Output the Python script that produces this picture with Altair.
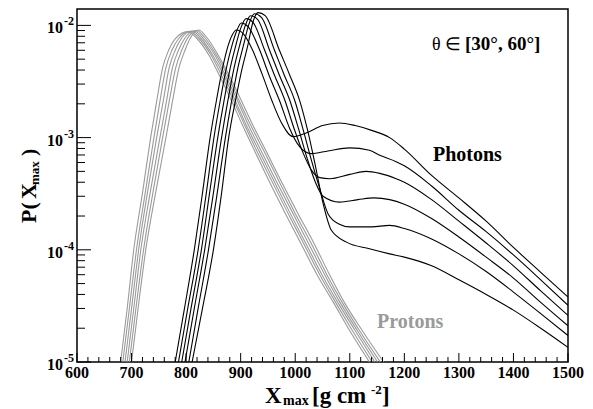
import altair as alt
import pandas as pd

# ---------------- data ----------------
# Protons: shared crossing levels, per-curve crossing positions
p_rise_levels = [1e-5, 3e-5, 1e-4, 3.2e-4, 1e-3, 2.1e-3, 4.2e-3, 6.0e-3, 7.6e-3]
p_fall_levels = [7.8e-3, 5.3e-3, 3.5e-3, 2.2e-3, 1.3e-3, 7.7e-4, 4.3e-4, 2.2e-4,
                 1.15e-4, 6e-5, 3.4e-5, 1.9e-5, 1e-5]
p_rise_x = [
    [680, 692, 704, 720, 735, 746, 757, 768, 780],
    [684, 696, 709, 725, 741, 752, 763, 774, 786],
    [688, 700, 713, 729, 746, 758, 769, 780, 791],
    [692, 704, 717, 734, 752, 764, 775, 786, 797],
    [696, 708, 722, 739, 757, 769, 781, 792, 802],
    [700, 712, 726, 744, 763, 775, 787, 798, 807],
]
p_peak_x = [803, 807, 811, 815, 819, 823]
p_peak_y = [8.8e-3, 8.85e-3, 8.9e-3, 8.95e-3, 9.0e-3, 9.1e-3]
p_fall_x = [
    [818, 843, 862, 882, 903, 925, 950, 980, 1010, 1040, 1070, 1100, 1136],
    [822, 847, 866, 886, 907, 929, 955, 985, 1015, 1045, 1074, 1105, 1141],
    [826, 850, 870, 889, 910, 933, 959, 989, 1019, 1049, 1078, 1110, 1146],
    [830, 854, 873, 893, 914, 937, 963, 994, 1024, 1054, 1082, 1114, 1151],
    [834, 857, 877, 896, 918, 942, 968, 998, 1029, 1058, 1086, 1118, 1156],
    [838, 860, 880, 900, 922, 946, 972, 1003, 1034, 1063, 1090, 1123, 1162],
]

# Photons: rising crossing levels shared, rest of each curve listed point by point
g_rise_levels = [1e-5, 3e-5, 1e-4, 3.2e-4, 1e-3, 2.2e-3, 4.2e-3, 6.6e-3]
g_rise_x = [
    [780, 797, 815, 830, 844, 856, 867, 877],
    [786, 803, 822, 837, 851, 863, 874, 884],
    [792, 809, 828, 843, 858, 870, 881, 891],
    [798, 815, 834, 850, 865, 877, 888, 898],
    [805, 822, 841, 857, 872, 884, 895, 905],
    [811, 830, 850, 865, 878, 891, 903, 913],
]
g_rest_x = [
    [885, 892, 905, 922, 940, 957, 975, 996, 1020, 1050, 1081, 1110, 1140, 1173, 1200, 1250, 1300, 1350, 1400, 1450, 1500],
    [893, 901, 914, 935, 952, 971, 990, 1008, 1029, 1060, 1100, 1136, 1155, 1185, 1200, 1250, 1300, 1350, 1400, 1450, 1500],
    [900, 910, 923, 944, 962, 981, 998, 1015, 1030, 1045, 1063, 1100, 1130, 1155, 1185, 1200, 1250, 1300, 1350, 1400, 1450, 1500],
    [908, 918, 931, 953, 971, 990, 1006, 1022, 1037, 1051, 1081, 1115, 1145, 1173, 1200, 1250, 1300, 1350, 1400, 1450, 1500],
    [915, 925, 938, 962, 980, 999, 1014, 1030, 1045, 1060, 1080, 1100, 1140, 1173, 1200, 1250, 1300, 1350, 1400, 1450, 1500],
    [922, 932, 945, 971, 990, 1008, 1022, 1037, 1051, 1066, 1094, 1136, 1173, 1200, 1250, 1300, 1350, 1400, 1450, 1500],
]
g_rest_y = [
    [8.3e-3, 9.1e-3, 8.4e-3, 6.0e-3, 3.6e-3, 2.15e-3, 1.35e-3, 1.02e-3, 1.1e-3, 1.28e-3, 1.35e-3, 1.28e-3, 1.16e-3, 1.0e-3, 7.9e-4, 4.6e-4, 2.9e-4, 1.8e-4, 1.05e-4, 6.3e-5, 3.8e-5],
    [9.0e-3, 1.05e-2, 9.7e-3, 6.0e-3, 3.6e-3, 2.15e-3, 1.2e-3, 8.3e-4, 7.2e-4, 7.6e-4, 8.1e-4, 7.7e-4, 6.95e-4, 6.1e-4, 5.6e-4, 3.7e-4, 2.25e-4, 1.45e-4, 9.0e-5, 5.4e-5, 3.2e-5],
    [9.4e-3, 1.15e-2, 1.06e-2, 6.0e-3, 3.6e-3, 2.15e-3, 1.2e-3, 7.2e-4, 5.1e-4, 4.4e-4, 4.3e-4, 4.7e-4, 5.0e-4, 4.8e-4, 4.3e-4, 4.0e-4, 2.8e-4, 1.8e-4, 1.15e-4, 7.2e-5, 4.3e-5, 2.6e-5],
    [9.8e-3, 1.22e-2, 1.13e-2, 6.0e-3, 3.6e-3, 2.15e-3, 1.2e-3, 6.5e-4, 4.0e-4, 3.0e-4, 2.66e-4, 2.8e-4, 2.9e-4, 2.8e-4, 2.55e-4, 1.9e-4, 1.3e-4, 8.6e-5, 5.6e-5, 3.4e-5, 2.1e-5],
    [1.02e-2, 1.27e-2, 1.18e-2, 6.0e-3, 3.6e-3, 2.15e-3, 1.2e-3, 6.2e-4, 3.5e-4, 2.1e-4, 1.7e-4, 1.6e-4, 1.6e-4, 1.65e-4, 1.55e-4, 1.25e-4, 9.2e-5, 6.4e-5, 4.2e-5, 2.7e-5, 1.72e-5],
    [1.05e-2, 1.3e-2, 1.22e-2, 6.0e-3, 3.6e-3, 2.15e-3, 1.2e-3, 5.6e-4, 2.6e-4, 1.5e-4, 1.17e-4, 1.02e-4, 9.2e-5, 8.6e-5, 7.2e-5, 5.4e-5, 4.0e-5, 2.9e-5, 2.0e-5, 1.35e-5],
]

# axis ticks / labels
x_major = [600, 700, 800, 900, 1000, 1100, 1200, 1300, 1400, 1500]
x_minor = [v for v in range(600, 1501, 20) if v % 100 != 0]
y_major = [1e-5, 1e-4, 1e-3, 1e-2]
y_exp = ["-5", "-4", "-3", "-2"]
y_minor = [m * d for d in [1e-5, 1e-4, 1e-3] for m in range(2, 10)]

# ---------------- build tables ----------------
rows = []
for i in range(6):
    xs = p_rise_x[i] + [p_peak_x[i]] + p_fall_x[i]
    ys = p_rise_levels + [p_peak_y[i]] + p_fall_levels
    for x, y in zip(xs, ys):
        rows.append({"x": x, "y": y, "curve": f"p{i}", "kind": "Protons"})
for i in range(6):
    xs = g_rise_x[i] + g_rest_x[i]
    ys = g_rise_levels + g_rest_y[i]
    for x, y in zip(xs, ys):
        rows.append({"x": x, "y": y, "curve": f"g{i}", "kind": "Photons"})
df = pd.DataFrame(rows)

W, H = 491, 353
FONT = "Liberation Serif"
xscale = alt.Scale(domain=[600, 1500], nice=False, zero=False)
yscale = alt.Scale(type="log", domain=[1e-5, 0.014], nice=False)

lines = alt.Chart(df).mark_line(interpolate="monotone", strokeWidth=1.1, clip=True).encode(
    x=alt.X("x:Q", scale=xscale, axis=alt.Axis(values=x_major, labels=False, ticks=False,
            domain=True, domainColor="black", domainWidth=2, grid=True, gridDash=[1, 2],
            gridColor="#222", gridWidth=1, title=None)),
    y=alt.Y("y:Q", scale=yscale, axis=alt.Axis(values=y_major, labels=False, ticks=False,
            domain=True, domainColor="black", domainWidth=2, grid=True, gridDash=[1, 2],
            gridColor="#222", gridWidth=1, title=None)),
    detail="curve:N",
    color=alt.Color("kind:N", scale=alt.Scale(domain=["Protons", "Photons"],
                    range=["#9a9a9a", "#000000"]), legend=None),
)

xt_major = alt.Chart(pd.DataFrame({"x": x_major})).mark_rule(color="black", strokeWidth=1).encode(
    x=alt.X("x:Q", scale=xscale, axis=None), y=alt.value(H), y2=alt.value(H - 9))
xt_minor = alt.Chart(pd.DataFrame({"x": x_minor})).mark_rule(color="black", strokeWidth=1).encode(
    x=alt.X("x:Q", scale=xscale, axis=None), y=alt.value(H), y2=alt.value(H - 5))
yt_major = alt.Chart(pd.DataFrame({"y": y_major})).mark_rule(color="black", strokeWidth=1).encode(
    y=alt.Y("y:Q", scale=yscale, axis=None), x=alt.value(0), x2=alt.value(14))
yt_minor = alt.Chart(pd.DataFrame({"y": y_minor})).mark_rule(color="black", strokeWidth=1).encode(
    y=alt.Y("y:Q", scale=yscale, axis=None), x=alt.value(0), x2=alt.value(8))

xlab = alt.Chart(pd.DataFrame({"x": x_major, "t": [str(v) for v in x_major]})).mark_text(
    font=FONT, fontWeight="bold", fontSize=16, align="center", baseline="alphabetic", color="black"
).encode(x=alt.X("x:Q", scale=xscale, axis=None), y=alt.value(H + 16), text="t:N")

ylab10 = alt.Chart(pd.DataFrame({"y": y_major})).mark_text(
    font=FONT, fontWeight="bold", fontSize=16, align="right", baseline="middle", dy=3, color="black"
).encode(y=alt.Y("y:Q", scale=yscale, axis=None), x=alt.value(-14), text=alt.value("10"))
ylabexp = alt.Chart(pd.DataFrame({"y": y_major, "e": y_exp})).mark_text(
    font=FONT, fontWeight="bold", fontSize=12, align="left", baseline="middle", dy=-4, color="black"
).encode(y=alt.Y("y:Q", scale=yscale, axis=None), x=alt.value(-13), text="e:N")


def txt(s, x, y, size, weight="bold", color="black", angle=0, align="left"):
    return alt.Chart(pd.DataFrame({"t": [s]})).mark_text(
        font=FONT, fontWeight=weight, fontSize=size, color=color, angle=angle,
        align=align, baseline="alphabetic"
    ).encode(x=alt.value(x), y=alt.value(y), text="t:N")


texts = [
    # x-axis title: X_max [g cm^-2]
    txt("X", 188, 394, 23),
    txt("max", 206, 396, 14),
    txt("[g cm", 235, 394, 23),
    txt("-2", 294, 385, 13),
    txt("]", 305, 394, 23),
    # y-axis title: P( X_max )  rotated
    txt("P(", -41, 214, 22, angle=270),
    txt("X", -41, 190, 22, angle=270),
    txt("max", -38, 176, 13, angle=270),
    txt(")", -41, 147, 22, angle=270),
    # annotations
    txt("\u03b8 \u2208", 355, 41, 18, weight="normal"),
    txt("[30\u00b0, 60\u00b0]", 388, 41, 19),
    txt("Photons", 356, 152, 20),
    txt("Protons", 300, 319, 20, color="#9a9a9a"),
]

chart = alt.layer(
    lines, xt_major, xt_minor, yt_major, yt_minor, xlab, ylab10, ylabexp, *texts
).properties(
    width=W, height=H,
    padding={"left": 77, "top": 9, "right": 25, "bottom": 47},
    autosize=alt.AutoSizeParams(type="none"),
    background="white",
).configure_view(stroke="black", strokeWidth=1.5)

chart.save("out.html", embed_options={"renderer": "svg", "actions": False})
